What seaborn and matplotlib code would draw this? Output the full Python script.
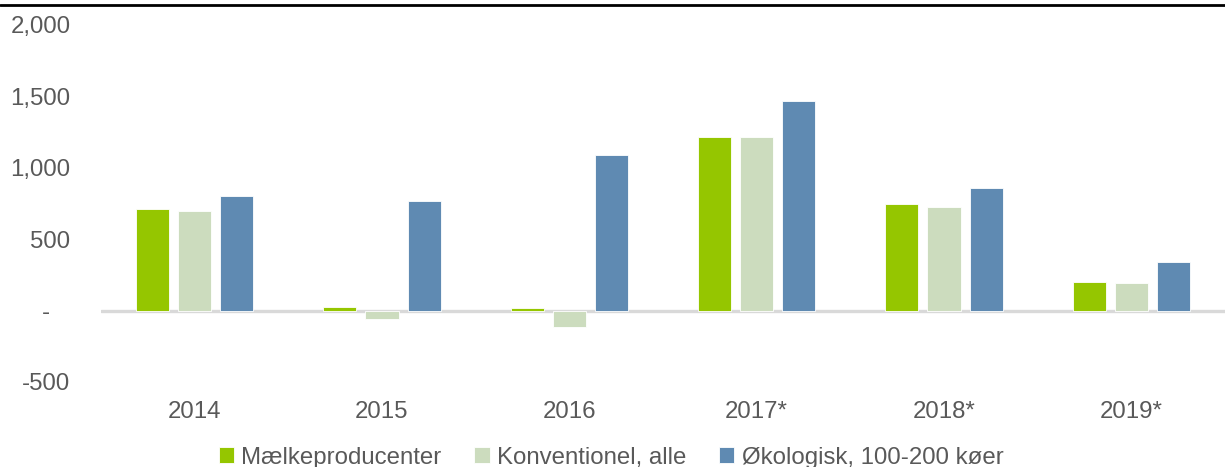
import matplotlib
matplotlib.use("Agg")
import matplotlib.pyplot as plt
from matplotlib.ticker import FuncFormatter, FixedLocator
from matplotlib.lines import Line2D
import seaborn as sns
import pandas as pd

years = ["2014", "2015", "2016", "2017*", "2018*", "2019*"]
series = ["Mælkeproducenter", "Konventionel, alle", "Økologisk, 100-200 køer"]
maelk = [708, 28, 18, 1213, 745, 198]
konv = [696, -56, -116, 1213, 722, 194]
oko = [806, 771, 1091, 1468, 858, 340]
colors = ["#95C600", "#CCDCBE", "#5F8AB2"]
yticks = [-500, 0, 500, 1000, 1500, 2000]

rows = []
for s, vals in zip(series, [maelk, konv, oko]):
    for y, v in zip(years, vals):
        rows.append({"year": y, "series": s, "value": v})
df = pd.DataFrame(rows)

sns.set_theme(style="white")
plt.rcParams["font.family"] = ["Liberation Sans", "DejaVu Sans"]
text_color = "#595959"
fs = 17.3

fig = plt.figure(figsize=(12.25, 4.67), dpi=100)
ax = fig.add_axes([101 / 1225, 1 - 382 / 467, 1 - 101 / 1225, (382 - 25) / 467])

sns.barplot(data=df, x="year", y="value", hue="series", order=years,
            hue_order=series, palette=colors, saturation=1, width=0.675, gap=0.21,
            edgecolor="white", linewidth=0.6, ax=ax, legend=True, zorder=2)

ax.axhline(0, color="#D9D9D9", linewidth=2.4, zorder=1)
ax.set_ylim(-500, 2000)
ax.set_xlim(-0.5, len(years) - 0.5)
ax.yaxis.set_major_locator(FixedLocator(yticks))
ax.yaxis.set_major_formatter(FuncFormatter(lambda v, p: "-   " if v == 0 else f"{int(v):,}"))
for s in ax.spines.values():
    s.set_visible(False)
ax.tick_params(axis="y", length=0, pad=22, labelsize=fs, labelcolor=text_color)
ax.tick_params(axis="x", length=0, pad=14, labelsize=fs, labelcolor=text_color)
ax.set_xlabel("")
ax.set_ylabel("")
ax.grid(False)

handles, labels = ax.get_legend_handles_labels()
ax.legend(handles, labels, loc="center", bbox_to_anchor=(0.4537, -0.212),
          ncol=3, frameon=False, fontsize=fs, labelcolor=text_color,
          handlelength=0.65, handleheight=0.65, handletextpad=0.3, columnspacing=1.35,
          borderaxespad=0, borderpad=0)

fig.add_artist(Line2D([0, 1], [1 - 5 / 467, 1 - 5 / 467], transform=fig.transFigure,
                      color="black", linewidth=2))

fig.savefig("out.png", dpi=100)
